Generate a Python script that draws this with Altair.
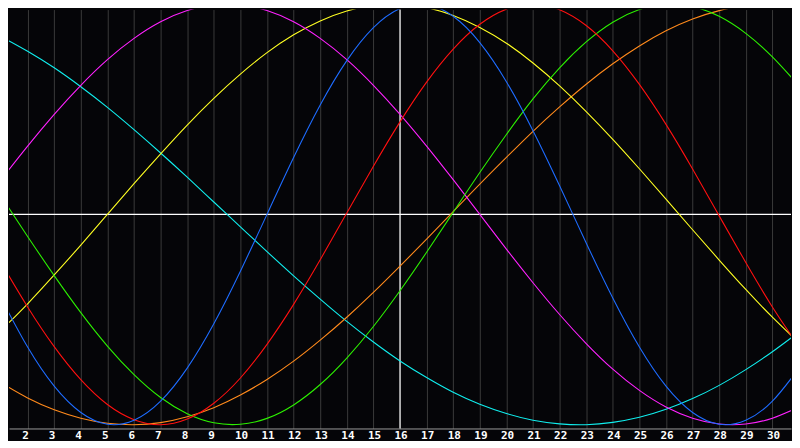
import altair as alt
import pandas as pd

days = list(range(1, 32))
tick_days = list(range(2, 31))

physical = [-39.8, -63.1, -81.7, -94.2, -99.8, -97.9, -88.8, -73.1, -52.0, -27.0, 0.0,
            27.0, 52.0, 73.1, 88.8, 97.9, 99.8, 94.2, 81.7, 63.1, 39.8, 13.6, -13.6,
            -39.8, -63.1, -81.7, -94.2, -99.8, -97.9, -88.8, -73.1]
emotional = [-22.9, -44.0, -62.9, -78.6, -90.4, -97.6, -100.0, -97.3, -89.8, -77.8, -61.8,
             -42.8, -21.6, 0.7, 22.9, 44.0, 62.9, 78.6, 90.4, 97.6, 100.0, 97.3, 89.8,
             77.8, 61.8, 42.8, 21.6, -0.7, -22.9, -44.0, -62.9]
intellectual = [8.6, -10.5, -29.1, -46.7, -62.6, -76.2, -87.1, -94.8, -99.1, -99.8, -97.0,
                -90.6, -80.9, -68.3, -53.3, -36.3, -18.0, 1.0, 19.9, 38.0, 54.9, 69.7, 82.0,
                91.4, 97.4, 99.9, 98.8, 94.2, 86.1, 74.9, 61.1]
intuitive = [16.5, 32.5, 47.6, 61.4, 73.6, 83.7, 91.6, 96.9, 99.7, 99.7, 96.9, 91.6, 83.7,
             73.6, 61.4, 47.6, 32.5, 16.5, 0.0, -16.5, -32.5, -47.6, -61.4, -73.6, -83.7,
             -91.6, -96.9, -99.7, -99.7, -96.9, -91.6]
aesthetic = [-55.2, -42.5, -28.8, -14.6, 0.0, 14.6, 28.8, 42.5, 55.2, 66.7, 76.9, 85.4, 92.0,
             96.7, 99.4, 99.9, 98.3, 94.6, 88.9, 81.4, 72.0, 61.1, 48.9, 35.7, 21.7, 7.3,
             -7.3, -21.7, -35.7, -48.9, -61.1]
awareness = [-80.1, -87.3, -92.9, -96.9, -99.3, -100.0, -99.0, -96.2, -91.9, -85.9, -78.5,
             -69.8, -59.8, -48.9, -37.1, -24.6, -11.8, 1.3, 14.4, 27.1, 39.5, 51.1, 61.9,
             71.6, 80.1, 87.3, 92.9, 96.9, 99.3, 100.0, 99.0]
spiritual = [84.6, 77.6, 69.7, 60.7, 50.9, 40.3, 29.2, 17.7, 5.9, -5.9, -17.7, -29.2, -40.3,
             -50.9, -60.7, -69.7, -77.6, -84.6, -90.3, -94.7, -97.9, -99.6, -100.0, -98.9,
             -96.5, -92.7, -87.6, -81.3, -73.8, -65.3, -55.9]

series_names = ["Spiritual", "Awareness", "Aesthetic", "Intuitive", "Intellectual",
                "Emotional", "Physical"]
series_values = [spiritual, awareness, aesthetic, intuitive, intellectual, emotional, physical]
series_colors = ["#10eeee", "#ff8a1c", "#ffff22", "#ff22ff", "#2cf000", "#ff1010", "#1e6cff"]

zero_line = [0]
today = [16]

rows = []
for name, vals in zip(series_names, series_values):
    for d, v in zip(days, vals):
        rows.append({"day": d, "value": v, "series": name})
df = pd.DataFrame(rows)

xscale = alt.Scale(domain=[1.3, 30.7], nice=False, zero=False)
yscale = alt.Scale(domain=[-101.8, 97.4], nice=False, zero=False)

xaxis = alt.Axis(values=tick_days, grid=True, gridColor="#3a3a3a", gridWidth=1,
                 domainColor="#9a9a9a", domainWidth=1, ticks=False, tickSize=0,
                 labelColor="#ffffff", labelFont="DejaVu Sans Mono", labelFontWeight="bold",
                 labelFontSize=11, labelAlign="left", labelOffset=-6, labelPadding=1,
                 labelOverlap=False, labelBaseline="top", title=None)

lines = alt.Chart(df).mark_line(strokeWidth=1.1, interpolate="natural", clip=True).encode(
    x=alt.X("day:Q", scale=xscale, axis=xaxis),
    y=alt.Y("value:Q", scale=yscale, axis=None),
    color=alt.Color("series:N", scale=alt.Scale(domain=series_names, range=series_colors),
                    legend=None),
    order=alt.Order("day:Q"),
)

hline = alt.Chart(pd.DataFrame({"value": zero_line})).mark_rule(
    color="#ffffff", strokeWidth=1.2).encode(y=alt.Y("value:Q", scale=yscale, axis=None))

vline = alt.Chart(pd.DataFrame({"day": today})).mark_rule(
    color="#ffffff", strokeWidth=1.2).encode(x=alt.X("day:Q", scale=xscale, axis=xaxis))

chart = alt.layer(hline, vline, lines).properties(
    width=784, height=420, background="#050508", padding=0
).configure_view(stroke="transparent")

chart.save("out.html", embed_options={"renderer": "svg", "actions": False})
